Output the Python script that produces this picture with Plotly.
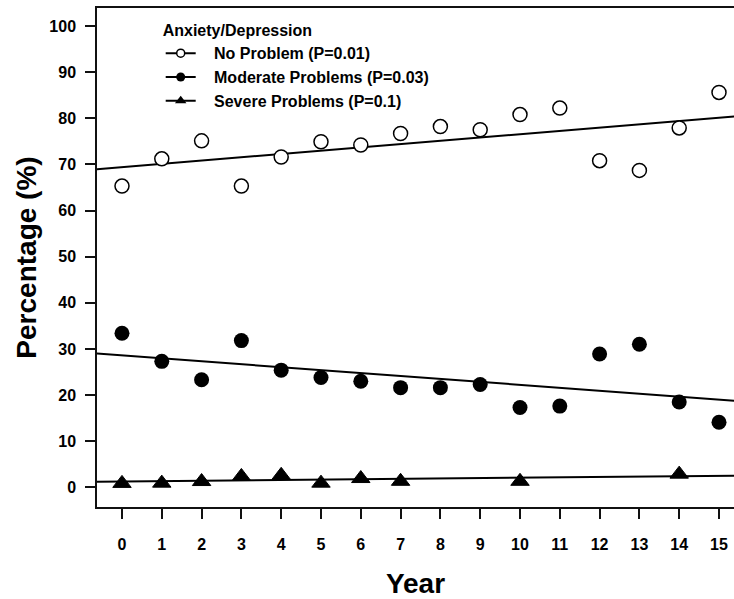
import plotly.graph_objects as go

years = list(range(16))
no_problem = [65.3, 71.2, 75.1, 65.3, 71.6, 74.9, 74.2, 76.7, 78.2, 77.5, 80.8, 82.2, 70.8, 68.7, 77.9, 85.6]
moderate = [33.4, 27.3, 23.3, 31.8, 25.4, 23.8, 23.0, 21.6, 21.6, 22.3, 17.3, 17.6, 28.9, 31.0, 18.5, 14.1]
severe_years = [0, 1, 2, 3, 4, 5, 6, 7, 10, 14]
severe = [0.85, 0.9, 1.25, 2.35, 2.6, 0.9, 1.9, 1.3, 1.3, 2.85]

# fitted trend lines (intercept, slope)
fit_intercept = [69.4, 28.6, 1.25]
fit_slope = [0.714, -0.639, 0.083]

legend_labels = ["No Problem (P=0.01)", "Moderate Problems (P=0.03)", "Severe Problems (P=0.1)"]
legend_title = "Anxiety/Depression"
x_ticks = list(range(16))
y_ticks = list(range(0, 101, 10))

FONT = "Liberation Sans"
fig = go.Figure()

line_x = [-1, 16]
for b0, b1 in zip(fit_intercept, fit_slope):
    fig.add_trace(go.Scatter(x=line_x, y=[b0 + b1 * v for v in line_x], mode="lines",
                             line=dict(color="black", width=2), showlegend=False, hoverinfo="skip"))

fig.add_trace(go.Scatter(x=years, y=no_problem, mode="markers", showlegend=False,
                         marker=dict(symbol="circle", size=14, color="white",
                                     line=dict(color="black", width=1.5))))
fig.add_trace(go.Scatter(x=years, y=moderate, mode="markers", showlegend=False,
                         marker=dict(symbol="circle", size=15, color="black",
                                     line=dict(color="black", width=0))))
fig.add_trace(go.Scatter(x=severe_years, y=severe, mode="markers", showlegend=False,
                         marker=dict(symbol="triangle-up", size=16, color="black",
                                     line=dict(color="black", width=1))))

# legend entries
leg_styles = [
    dict(symbol="circle", size=8, color="white", line=dict(color="black", width=1.5)),
    dict(symbol="circle", size=9, color="black", line=dict(color="black", width=0)),
    dict(symbol="triangle-up", size=10, color="black", line=dict(color="black", width=0)),
]
for lab, st in zip(legend_labels, leg_styles):
    fig.add_trace(go.Scatter(x=[None], y=[None], mode="lines+markers",
                             name="\u00a0\u00a0\u00a0" + lab,
                             line=dict(color="black", width=2), marker=st))

axis_common = dict(showline=True, linecolor="#111", linewidth=1.5, ticks="outside",
                   ticklen=10, tickwidth=1.5, tickcolor="#111", showgrid=False, zeroline=False,
                   tickfont=dict(family=FONT, size=16, color="black", weight="bold"))

fig.update_layout(
    width=734, height=599,
    margin=dict(l=97, r=0, t=8, b=92),
    plot_bgcolor="white", paper_bgcolor="white",
    font=dict(family=FONT, color="black"),
    xaxis=dict(range=[-0.628, 15.377], tickvals=x_ticks, mirror=True,
               title=dict(text="Year", font=dict(family=FONT, size=28, weight="bold"), standoff=22),
               ticklabelstandoff=12, **axis_common),
    yaxis=dict(range=[-4.27, 103.9], tickvals=y_ticks,
               title=dict(text="Percentage (%)", font=dict(family=FONT, size=28, weight="bold"), standoff=5),
               ticklabelstandoff=6, **axis_common),
    legend=dict(x=0.1, y=0.985, xanchor="left", yanchor="top", bgcolor="rgba(0,0,0,0)",
                title=dict(text=legend_title, font=dict(family=FONT, size=16, weight="bold")),
                font=dict(family=FONT, size=16, color="black", weight="bold"),
                itemwidth=30, tracegroupgap=0),
)

fig.write_html("out.html", config={"displayModeBar": False},
               post_script="document.body.style.margin='0';document.body.style.overflow='hidden';")
